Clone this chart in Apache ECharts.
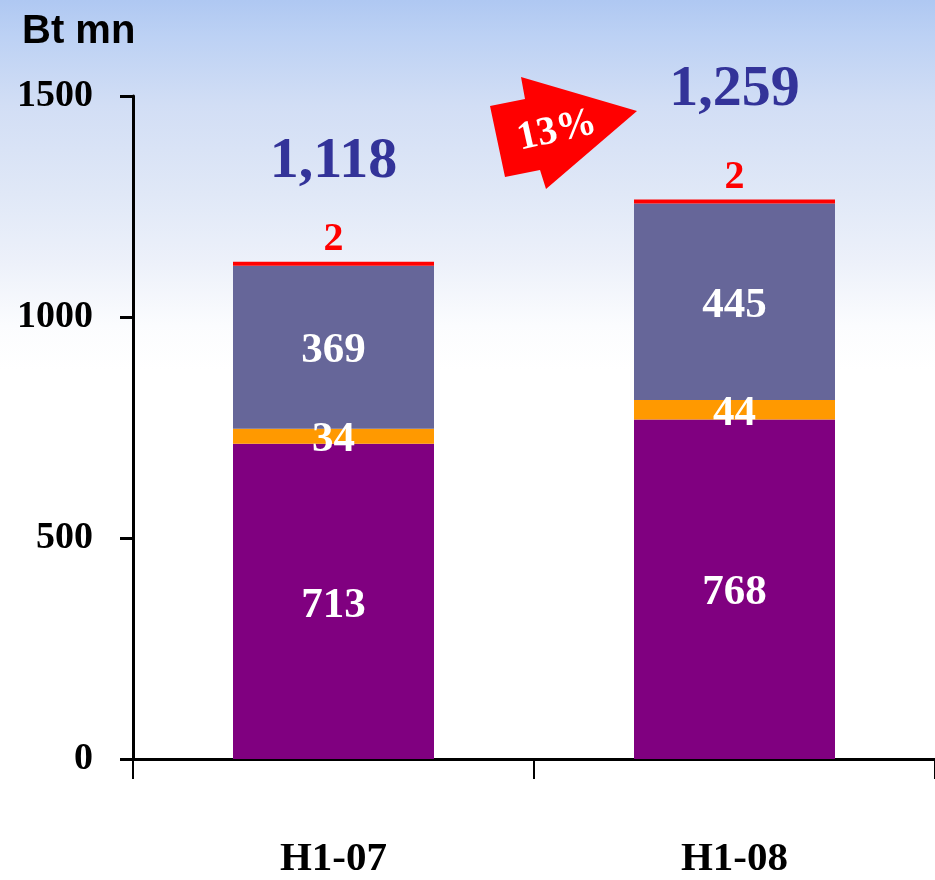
<!DOCTYPE html>
<html>
<head>
<meta charset="utf-8">
<script src="https://cdn.jsdelivr.net/npm/echarts@6/dist/echarts.min.js"></script>
<style>
  html, body { margin: 0; padding: 0; background: #ffffff; }
  #chart { width: 935px; height: 880px; }
</style>
</head>
<body>
<div id="chart"></div>
<script>
// Half-year figures, Bt mn
const categories = ['H1-07', 'H1-08'];
const seriesBase = [713, 768];      // purple segment
const seriesSecond = [34, 44];      // orange segment
const seriesThird = [369, 445];     // slate segment
const seriesTop = [2, 2];           // thin red cap
const totals = [1118, 1259];
const growthLabel = '13%';
const yTicks = [0, 500, 1000, 1500];

const serif = '"Liberation Serif", "Times New Roman", serif';

const chart = echarts.init(document.getElementById('chart'), null, { renderer: 'canvas' });

function insideLabel() {
  return {
    show: true,
    position: 'inside',
    offset: [0, 4],
    color: '#ffffff',
    fontFamily: serif,
    fontWeight: 'bold',
    fontSize: 43
  };
}

const totalDistances = [74, 84];

const option = {
  animation: false,
  backgroundColor: {
    type: 'linear', x: 0, y: 0, x2: 0, y2: 1,
    colorStops: [
      { offset: 0.0, color: '#afc8f2' },
      { offset: 0.04, color: '#bcd1f4' },
      { offset: 0.12, color: '#d2def5' },
      { offset: 0.22, color: '#e0e8f7' },
      { offset: 0.30, color: '#edf1fa' },
      { offset: 0.37, color: '#fbfcfe' },
      { offset: 0.42, color: '#ffffff' },
      { offset: 1.0, color: '#ffffff' }
    ]
  },
  grid: { left: 133, right: 0, top: 96, bottom: 120, containLabel: false },
  xAxis: {
    type: 'category',
    data: categories,
    axisLine: { show: true, lineStyle: { color: '#000', width: 3 } },
    axisTick: { show: true, length: 20, lineStyle: { color: '#000', width: 2 } },
    axisLabel: {
      margin: 80,
      color: '#000',
      fontFamily: serif,
      fontWeight: 'bold',
      fontSize: 41
    }
  },
  yAxis: {
    type: 'value',
    min: 0,
    max: 1500,
    interval: 500,
    axisLine: { show: true, lineStyle: { color: '#000', width: 3 } },
    axisTick: { show: true, length: 13, lineStyle: { color: '#000', width: 3 } },
    splitLine: { show: false },
    axisLabel: {
      margin: 40,
      color: '#000',
      fontFamily: serif,
      fontWeight: 'bold',
      fontSize: 38,
      formatter: v => (yTicks.indexOf(v) >= 0 ? String(v) : '')
    }
  },
  series: [
    {
      name: 'base', type: 'bar', stack: 'total', barWidth: 201,
      itemStyle: { color: '#800080' },
      label: insideLabel(),
      data: seriesBase
    },
    {
      name: 'second', type: 'bar', stack: 'total',
      itemStyle: { color: '#ff9900' },
      label: insideLabel(),
      data: seriesSecond
    },
    {
      name: 'third', type: 'bar', stack: 'total',
      itemStyle: { color: '#666699' },
      label: insideLabel(),
      data: seriesThird
    },
    {
      name: 'top', type: 'bar', stack: 'total', barMinHeight: 4,
      itemStyle: { color: '#ff0000' },
      label: {
        show: true,
        position: 'top',
        distance: 2,
        color: '#ff0000',
        fontFamily: serif,
        fontWeight: 'bold',
        fontSize: 40
      },
      data: seriesTop
    },
    {
      name: 'totals', type: 'scatter', symbolSize: 0, silent: true,
      itemStyle: { opacity: 1 },
      label: {
        show: true,
        position: 'top',
        color: '#333399',
        fontFamily: serif,
        fontWeight: 'bold',
        fontSize: 58,
        formatter: p => p.value[1].toLocaleString('en-US')
      },
      data: totals.map((t, i) => ({
        value: [categories[i], t],
        label: { distance: totalDistances[i] }
      }))
    }
  ],
  graphic: [
    {
      type: 'text',
      left: 22,
      top: 12,
      style: {
        text: 'Bt mn',
        fill: '#000',
        font: 'bold 40px "Liberation Sans", Arial, sans-serif'
      }
    },
    {
      type: 'polygon',
      shape: {
        points: [[490, 106], [525, 99], [521, 77], [637, 111], [546, 189], [540, 170], [505, 177]]
      },
      style: { fill: '#ff0000' }
    },
    {
      type: 'text',
      x: 557, y: 131,
      rotation: 0.22,
      style: {
        text: growthLabel,
        fill: '#ffffff',
        font: 'bold 40px "Liberation Serif", "Times New Roman", serif',
        textAlign: 'center',
        textVerticalAlign: 'middle'
      }
    }
  ]
};

chart.setOption(option);
</script>
</body>
</html>
